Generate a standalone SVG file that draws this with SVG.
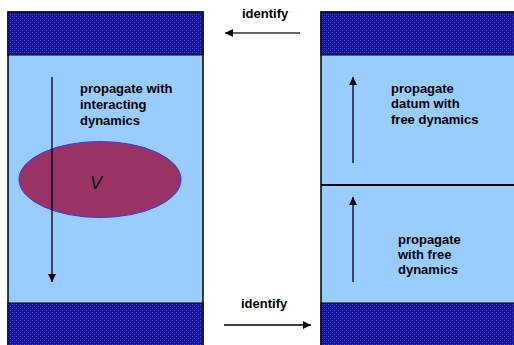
<svg xmlns="http://www.w3.org/2000/svg" width="514" height="345" viewBox="0 0 514 345">
<style>
.band{fill:url(#hatch);stroke:#000;stroke-width:1}
.body{fill:#99ccff;stroke:#000;stroke-width:1.5}
.lbl{font-family:"Liberation Sans",Arial,sans-serif;font-weight:bold;font-size:13px;fill:#000}
.arr{stroke:#000;stroke-width:1.3;fill:none;marker-end:url(#ah)}
.garr{stroke:#666;stroke-width:2;fill:none;marker-end:url(#ah)}
</style>
<defs>
<pattern id="hatch" patternUnits="userSpaceOnUse" width="4" height="4">
<rect width="4" height="4" fill="#141490"/>
<rect x="0" y="0" width="1" height="1" fill="#4a4ad0"/>
<rect x="2" y="2" width="1" height="1" fill="#4a4ad0"/>
<rect x="2" y="0" width="1" height="1" fill="#2a2ab0"/>
<rect x="0" y="2" width="1" height="1" fill="#2a2ab0"/>
</pattern>
<marker id="ah" viewBox="0 0 10 10" refX="10" refY="5" markerWidth="8" markerHeight="8" markerUnits="userSpaceOnUse" orient="auto">
<path d="M0,0 L10,5 L0,10 Z" fill="#000"/>
</marker>
</defs>
<g id="left-column">
<rect class="body" x="8" y="12" width="195" height="340"/>
<rect class="band" x="8" y="12" width="195" height="43"/>
<rect class="band" x="8" y="303" width="195" height="45"/>
</g>
<g id="right-column">
<rect class="body" x="321" y="12" width="200" height="340"/>
<rect class="band" x="321" y="12" width="200" height="43"/>
<rect class="band" x="321" y="303" width="200" height="45"/>
<line x1="321" y1="185" x2="514" y2="185" stroke="#000" stroke-width="2"/>
</g>
<g id="region-V">
<ellipse cx="100" cy="179.5" rx="81" ry="38" fill="#993366" stroke="#3333ff" stroke-width="1"/>
<text x="96" y="189" font-family="'Liberation Sans',Arial,sans-serif" font-style="italic" font-size="18" fill="#000" text-anchor="middle">V</text>
</g>
<g id="connectors">
<line class="arr" x1="52" y1="77" x2="52" y2="282"/>
<line class="arr" x1="353" y1="163" x2="353" y2="77"/>
<line class="arr" x1="353" y1="282" x2="353" y2="197"/>
<line class="garr" x1="300" y1="33" x2="225" y2="33"/>
<line class="arr" x1="224" y1="325" x2="311" y2="325"/>
</g>
<g id="labels">
<text class="lbl" x="80" y="93">propagate with</text>
<text class="lbl" x="80" y="109">interacting</text>
<text class="lbl" x="80" y="125">dynamics</text>
<text class="lbl" x="391" y="93">propagate</text>
<text class="lbl" x="391" y="108">datum with</text>
<text class="lbl" x="391" y="124">free dynamics</text>
<text class="lbl" x="398" y="244">propagate</text>
<text class="lbl" x="398" y="259">with free</text>
<text class="lbl" x="398" y="274">dynamics</text>
<text class="lbl" x="242" y="18">identify</text>
<text class="lbl" x="241" y="308">identify</text>
</g>
</svg>
